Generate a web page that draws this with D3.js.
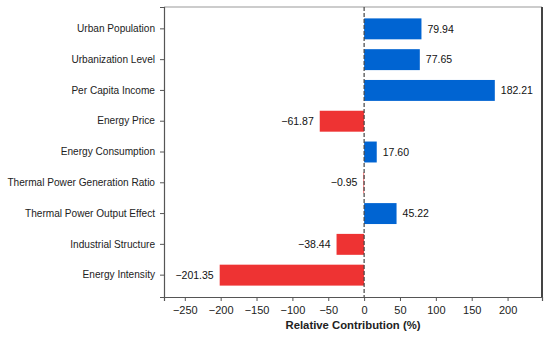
<!DOCTYPE html>
<html>
<head>
<meta charset="utf-8">
<script src="https://cdn.jsdelivr.net/npm/d3@7"></script>
<style>
  html, body { margin: 0; padding: 0; background: #fff; overflow: hidden; }
  svg { display: block; }
  text { font-family: "Liberation Sans", Arial, sans-serif; }
</style>
</head>
<body>
<div id="chart"></div>
<script>
var categories = ["Urban Population", "Urbanization Level", "Per Capita Income", "Energy Price",
                  "Energy Consumption", "Thermal Power Generation Ratio", "Thermal Power Output Effect",
                  "Industrial Structure", "Energy Intensity"];
var values = [79.94, 77.65, 182.21, -61.87, 17.60, -0.95, 45.22, -38.44, -201.35];
var xTicks = [-250, -200, -150, -100, -50, 0, 50, 100, 150, 200];

var W = 550, H = 338;
var margin = {top: 7, right: 8, bottom: 41, left: 164};
var width = W - margin.left - margin.right;
var height = H - margin.top - margin.bottom;

var svg = d3.select("#chart").append("svg")
    .attr("width", W)
    .attr("height", H)
  .append("g")
    .attr("transform", "translate(" + margin.left + "," + margin.top + ")");

var x = d3.scaleLinear().domain([-279, 248]).range([0, width]);
var y = d3.scaleBand().domain(categories).range([0, height])
    .paddingInner(0.32).paddingOuter(0.37);

// plot frame (top and right sides)
svg.append("line")
    .attr("x1", 0).attr("x2", width).attr("y1", 0).attr("y2", 0)
    .attr("stroke", "#999").attr("stroke-width", 1);
svg.append("line")
    .attr("x1", width).attr("x2", width).attr("y1", 0).attr("y2", height)
    .attr("stroke", "#444").attr("stroke-width", 2);

// bars
svg.selectAll(".bar")
    .data(values)
  .enter().append("rect")
    .attr("class", "bar")
    .attr("x", function(d) { return x(Math.min(0, d)); })
    .attr("y", function(d, i) { return y(categories[i]); })
    .attr("width", function(d) { return Math.abs(x(d) - x(0)); })
    .attr("height", y.bandwidth())
    .attr("fill", function(d) { return d >= 0 ? "#0064D2" : "#EE3333"; });

// zero line
svg.append("line")
    .attr("x1", x(0)).attr("x2", x(0))
    .attr("y1", 0).attr("y2", height)
    .attr("stroke", "#444").attr("stroke-width", 1.2)
    .attr("stroke-dasharray", "4,2");

// value labels
svg.selectAll(".lbl")
    .data(values)
  .enter().append("text")
    .attr("class", "lbl")
    .attr("x", function(d) { return d >= 0 ? x(d) + 6 : x(d) - 6; })
    .attr("y", function(d, i) { return y(categories[i]) + y.bandwidth() / 2; })
    .attr("dy", "0.35em")
    .attr("text-anchor", function(d) { return d >= 0 ? "start" : "end"; })
    .style("font-size", "10.5px")
    .attr("fill", "#111")
    .text(function(d) { return d.toFixed(2).replace("-", "\u2212"); });

// axes
var xAxis = svg.append("g")
    .attr("transform", "translate(0," + height + ")")
    .call(d3.axisBottom(x).tickValues(xTicks).tickSize(4).tickPadding(5)
      .tickFormat(function(d) { return String(d).replace("-", "\u2212"); }));
var yAxis = svg.append("g")
    .call(d3.axisLeft(y).tickSize(4).tickPadding(5));

[xAxis, yAxis].forEach(function(a) {
  a.select(".domain").attr("stroke", "#555").attr("stroke-width", 1.2);
  a.selectAll(".tick line").attr("stroke", "#555");
  a.selectAll(".tick text").attr("fill", "#222")
    .style("font-family", "'Liberation Sans', Arial, sans-serif");
});
xAxis.selectAll(".tick text").style("font-size", "11px");
yAxis.selectAll(".tick text").style("font-size", "10.1px");

// axis title
svg.append("text")
    .attr("x", width / 2)
    .attr("y", height + 32)
    .attr("text-anchor", "middle")
    .style("font-size", "11.3px")
    .style("font-weight", "bold")
    .attr("fill", "#222")
    .text("Relative Contribution (%)");
</script>
</body>
</html>
